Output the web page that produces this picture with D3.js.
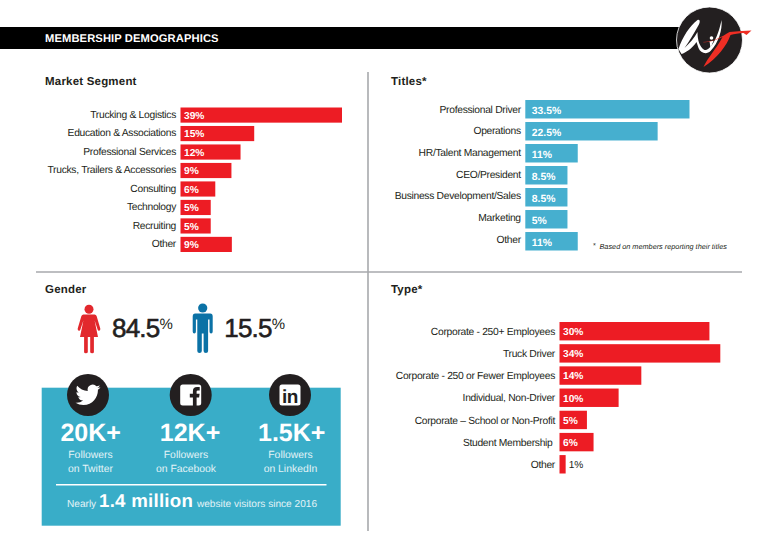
<!DOCTYPE html>
<html><head><meta charset="utf-8">
<script src="https://cdn.jsdelivr.net/npm/d3@7"></script>
<style>
html,body{margin:0;padding:0;background:#fff}
svg{display:block;text-rendering:geometricPrecision}
text{font-family:"Liberation Sans",Arial,sans-serif}
.tick text{font-family:"Liberation Sans",Arial,sans-serif}
</style></head><body>
<svg id="c" width="766" height="547"></svg>
<script>
// ---- data ----
const marketCategories = ["Trucking & Logistics","Education & Associations","Professional Services","Trucks, Trailers & Accessories","Consulting","Technology","Recruiting","Other"];
const marketLabels = ["39%","15%","12%","9%","6%","5%","5%","9%"];
const marketBarLengths = [39,17.8,14.5,12.3,8.4,7.3,7.3,12.4];

const titleCategories = ["Professional Driver","Operations","HR/Talent Management","CEO/President","Business Development/Sales","Marketing","Other"];
const titleLabels = ["33.5%","22.5%","11%","8.5%","8.5%","5%","11%"];
const titleBarLengths = [33.5,27,10.7,8.6,8.6,8.6,10.7];

const typeCategories = ["Corporate - 250+ Employees","Truck Driver","Corporate - 250 or Fewer Employees","Individual, Non-Driver","Corporate \u2013 School or Non-Profit","Student Membership","Other"];
const typeLabels = ["30%","34%","14%","10%","5%","6%","1%"];
const typeBarLengths = [31.7,34,17.3,12.5,5.8,7.2,1.3];

const genderValues = ["84.5","15.5"];
const socialNumbers = ["20K+","12K+","1.5K+"];
const socialLine1 = ["Followers","Followers","Followers"];
const socialLine2 = ["on Twitter","on Facebook","on LinkedIn"];

// ---- drawing ----
const svg = d3.select("#c");
const RED="#ed1c24", TEAL="#46afcf", PANEL="#39adc8", INK="#231f20", RULE="#a7a9ac";

svg.append("rect").attr("x",0).attr("y",27).attr("width",690).attr("height",22).attr("fill","#000");
svg.append("text").attr("x",45).attr("y",42).attr("fill","#fff").attr("font-size",11.2).attr("font-weight",700).attr("letter-spacing",0.1).text("MEMBERSHIP DEMOGRAPHICS");

svg.append("line").attr("x1",368).attr("x2",368).attr("y1",72).attr("y2",531).attr("stroke",RULE).attr("stroke-width",1.6);
svg.append("line").attr("x1",36).attr("x2",742).attr("y1",272).attr("y2",272).attr("stroke",RULE).attr("stroke-width",1.6);

function heading(x,y,t){svg.append("text").attr("x",x).attr("y",y).attr("fill",INK).attr("font-size",11.5).attr("font-weight",700).attr("letter-spacing",0.2).text(t);}
heading(45,85,"Market Segment");heading(391,85,"Titles*");heading(45,293,"Gender");heading(391,293,"Type*");

function barChart(o){
  const y=d3.scaleBand().domain(o.cats).range(o.yr).paddingInner(o.pad);
  const yLabel=d3.scaleBand().domain(o.cats).range(o.lyr||o.yr).paddingInner(o.pad);
  const x=d3.scaleLinear().domain(o.xd).range([o.x0,o.x1]);
  const g=svg.append("g");
  const ax=g.append("g").attr("transform",`translate(${o.x0},0)`).call(d3.axisLeft(yLabel).tickSize(0).tickPadding(4.5));
  ax.select(".domain").remove();
  ax.selectAll("text").attr("font-size",10.3).attr("letter-spacing",-0.3).attr("fill",INK).attr("dy","0.35em").style("font-family",'"Liberation Sans"');
  g.selectAll("rect").data(o.cats).join("rect")
    .attr("x",o.x0).attr("y",d=>y(d)).attr("height",y.bandwidth())
    .attr("width",(d,i)=>x(o.vals[i])-o.x0).attr("fill",o.color);
  const out=i=>o.outside&&o.outside.includes(i);
  g.selectAll("text.v").data(o.cats).join("text").attr("class","v")
    .attr("x",(d,i)=>out(i)?x(o.vals[i])+3:o.x0+o.vdx)
    .attr("y",d=>y(d)+y.bandwidth()/2+o.vdy)
    .attr("fill",(d,i)=>out(i)?INK:"#fff")
    .attr("font-size",o.vfs).attr("font-weight",(d,i)=>out(i)?400:700)
    .text((d,i)=>o.labels[i]);
  return g;
}
barChart({cats:marketCategories,vals:marketBarLengths,labels:marketLabels,xd:[0,39],x0:180.5,x1:342,yr:[107.5,252],lyr:[106.6,251.1],pad:.18,color:RED,vfs:10.2,vdx:3.5,vdy:3.8});
barChart({cats:titleCategories,vals:titleBarLengths,labels:titleLabels,xd:[0,33.5],x0:525.3,x1:689.5,yr:[100,250.5],lyr:[100,248.3],pad:.16,color:TEAL,vfs:10.4,vdx:6.5,vdy:4.6});
const typeChart=barChart({cats:typeCategories,vals:typeBarLengths,labels:typeLabels,xd:[0,34],x0:559.5,x1:720.3,yr:[322,473.5],pad:.17,color:RED,vfs:10.2,vdx:3.5,vdy:3.8,outside:[6]});
typeChart.selectAll(".tick text").filter(d=>d==="Student Membership").attr("dx",-2.5);

svg.append("text").attr("x",593).attr("y",248).attr("font-size",7.4).attr("fill",INK).text("*");
svg.append("text").attr("x",599.5).attr("y",248.5).attr("font-size",7.3).attr("font-style","italic").attr("fill",INK).text("Based on members reporting their titles");

// gender icons
const f=svg.append("g").attr("transform","translate(89,305)").attr("fill","#e2282d");
f.append("circle").attr("cx",0).attr("cy",4.2).attr("r",4.5);
f.append("path").attr("d","M-5.6,9.5 L5.6,9.5 Q7,9.7 7.6,11 L11.3,23.5 Q11.6,25.5 10.2,25.8 Q9,26 8.6,24.6 L5.6,15.5 L9,32 L4.9,32 L4.9,47 Q4.9,48.3 3.3,48.3 Q1.2,48.3 1.2,47 L1.2,32 L-1.2,32 L-1.2,47 Q-1.2,48.3 -3.3,48.3 Q-4.9,48.3 -4.9,47 L-4.9,32 L-9,32 L-5.6,15.5 L-8.6,24.6 Q-9,26 -10.2,25.8 Q-11.6,25.5 -11.3,23.5 L-7.6,11 Q-7,9.7 -5.6,9.5 Z");
const m=svg.append("g").attr("transform","translate(202.7,303.5)").attr("fill","#0b72a6");
m.append("circle").attr("cx",0).attr("cy",4.5).attr("r",4.6);
m.append("path").attr("d","M-7.5,10 L7.5,10 Q10,10 10,13 L10,28 Q10,30 8.4,30 Q6.8,30 6.8,28 L6.8,16 L5.4,16 L5.4,47.5 Q5.4,49.5 3.2,49.5 Q0.9,49.5 0.9,47.5 L0.9,30 L-0.9,30 L-0.9,47.5 Q-0.9,49.5 -3.2,49.5 Q-5.4,49.5 -5.4,47.5 L-5.4,16 L-6.8,16 L-6.8,28 Q-6.8,30 -8.4,30 Q-10,30 -10,28 L-10,13 Q-10,10 -7.5,10 Z");
[[112,0],[224.3,1]].forEach(([x,i])=>{
  svg.append("text").attr("x",x).attr("y",337).attr("fill",INK).attr("font-size",26).attr("letter-spacing",-0.8).attr("stroke",INK).attr("stroke-width",0.6).text(genderValues[i]);
  svg.append("text").attr("x",x+47.5).attr("y",328.5).attr("fill",INK).attr("font-size",15).text("%");
});

// social panel
svg.append("rect").attr("x",41.7).attr("y",387.7).attr("width",299).attr("height",138).attr("fill",PANEL);
const centers=[88,190.7,290];
const textCenters=[90.7,190,291.7];
const subCenters=[90.5,186,290.5];
const icons=[
 g=>g.append("path").attr("transform","translate(-12.5,-12.6) scale(1.04)").attr("fill","#fff").attr("d","M23.953 4.57a10 10 0 01-2.825.775 4.958 4.958 0 002.163-2.723c-.951.555-2.005.959-3.127 1.184a4.92 4.92 0 00-8.384 4.482C7.69 8.095 4.067 6.13 1.64 3.162a4.822 4.822 0 00-.666 2.475c0 1.71.87 3.213 2.188 4.096a4.904 4.904 0 01-2.228-.616v.06a4.923 4.923 0 003.946 4.827 4.996 4.996 0 01-2.212.085 4.936 4.936 0 004.604 3.417 9.867 9.867 0 01-6.102 2.105c-.39 0-.779-.023-1.17-.067a13.995 13.995 0 007.557 2.209c9.053 0 13.998-7.496 13.998-13.985 0-.21 0-.42-.015-.63A9.935 9.935 0 0024 4.59z"),
 g=>{g.append("rect").attr("x",-10.5).attr("y",-10.5).attr("width",21).attr("height",21).attr("rx",2.5).attr("fill","#fff");
     g.append("path").attr("fill",INK).attr("d","M2.2,11 L2.2,2.4 L-0.9,2.4 L-0.9,-1.2 L2.2,-1.2 L2.2,-3.8 Q2.2,-8 6.4,-8 L9,-8 L9,-4.6 L7.2,-4.6 Q5.9,-4.6 5.9,-3.4 L5.9,-1.2 L8.9,-1.2 L8.4,2.4 L5.9,2.4 L5.9,11 Z");},
 g=>{g.append("rect").attr("x",-10.5).attr("y",-10.5).attr("width",21).attr("height",21).attr("rx",2.5).attr("fill","#fff");
     g.append("text").attr("text-anchor","middle").attr("x",0).attr("y",7.5).attr("font-size",19).attr("font-weight",700).attr("fill",INK).attr("letter-spacing",-0.5).text("in");}
];
centers.forEach((cx,i)=>{
  const g=svg.append("g").attr("transform",`translate(${cx},395)`);
  g.append("circle").attr("r",21).attr("fill",INK);
  icons[i](g);
  svg.append("text").attr("x",textCenters[i]).attr("y",441).attr("text-anchor","middle").attr("fill","#fff").attr("font-size",25).attr("font-weight",700).text(socialNumbers[i]);
  svg.append("text").attr("x",subCenters[i]).attr("y",457.7).attr("text-anchor","middle").attr("fill","#e3f3f7").attr("font-size",10.4).text(socialLine1[i]);
  svg.append("text").attr("x",subCenters[i]).attr("y",471.7).attr("text-anchor","middle").attr("fill","#e3f3f7").attr("font-size",10.4).text(socialLine2[i]);
});
svg.append("line").attr("x1",56).attr("x2",326.5).attr("y1",484.7).attr("y2",484.7).attr("stroke","#fff").attr("stroke-width",1.6);
const nt=svg.append("text").attr("x",67).attr("y",507).attr("fill","#e3f3f7").attr("font-size",10.1);
nt.append("tspan").text("Nearly ");
nt.append("tspan").attr("font-size",18.7).attr("font-weight",700).attr("letter-spacing",0.25).attr("fill","#fff").text("1.4 million");
nt.append("tspan").attr("dx",1).text(" website visitors since 2016");

// logo
const lg=svg.append("g").attr("transform","translate(709.5,40)");
lg.append("circle").attr("r",33).attr("fill",INK).attr("stroke","#fff").attr("stroke-width",0.8);
lg.append("path").attr("fill","#fff").attr("d","M-31,9 C-27,-3 -20,-14 -12,-20 C-9,-21 -9,-17 -12,-13 C-16,-6 -20,1 -25,8 C-20,3 -15,-2 -12,-8 C-12,0 -10,7 -5,10 C0,11 8,0 12,-20 C13,-10 9,3 1,11 C-3,15 -9,13 -11,8 L-13,2 C-17,8 -24,13 -28,14 Z");
lg.append("circle").attr("cx",2).attr("cy",-2).attr("r",1.8).attr("fill","#fff");
lg.append("path").attr("fill","#fff").attr("d","M0,1 L4,1 L1,8 Z");
lg.append("path").attr("fill","#ee2e24").attr("d","M-7,2 C3,2 12,-3 20,-8 C28,-9 36,-9 42,-9.5 L37,-5 L34,-7 C29,-7 25,-6 21,-5 C17,6 8,18 -6,27 C-2,18 6,10 13,-3 C6,0 0,3 -7,2 Z");
</script>
</body></html>
